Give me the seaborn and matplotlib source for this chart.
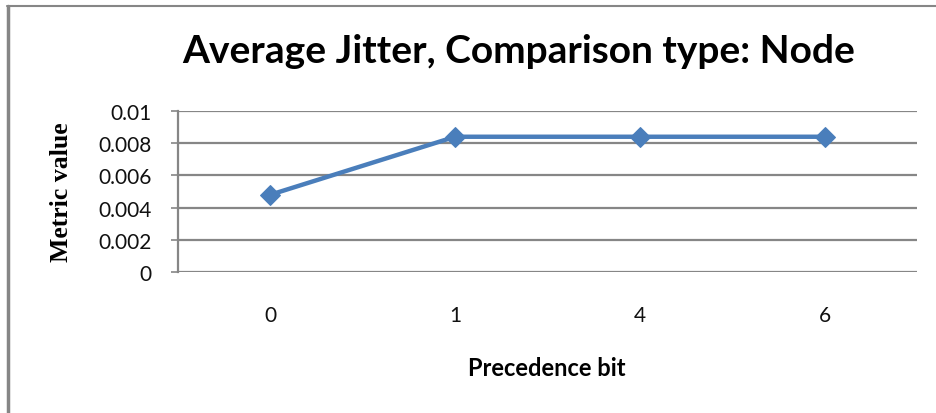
import matplotlib
matplotlib.use("Agg")
import matplotlib.pyplot as plt
import seaborn as sns
from matplotlib.lines import Line2D

# data
precedence_bits = ["0", "1", "4", "6"]
avg_jitter = [0.0048, 0.0084, 0.0084, 0.0084]
y_ticks = [0, 0.002, 0.004, 0.006, 0.008, 0.01]
y_tick_labels = ["0", "0.002", "0.004", "0.006", "0.008", "0.01"]

sns.set_style("white")
plt.rcParams["font.family"] = ["Lato", "DejaVu Sans"]

fig = plt.figure(figsize=(9.37, 4.14), dpi=100)
ax = fig.add_axes([0.190, 0.3406, 0.7887, 0.3889])

line_color = "#4a7ebb"
grid_color = "#868686"

sns.lineplot(x=precedence_bits, y=avg_jitter, ax=ax, color=line_color,
             linewidth=3.2, marker="D", markersize=10,
             markeredgecolor=line_color, sort=False)

ax.set_xlim(-0.5, 3.5)
ax.set_ylim(0, 0.01)
ax.set_yticks(y_ticks)
ax.set_yticklabels(y_tick_labels, fontsize=15, color="#111111")
ax.tick_params(axis="y", length=5, width=1.2, color=grid_color, pad=14, direction="out", left=True)
ax.tick_params(axis="x", length=0, pad=24, labelsize=15, labelcolor="#111111")

ax.grid(axis="y", color=grid_color, linewidth=1.6)
ax.set_axisbelow(True)
for side in ["top", "right", "bottom"]:
    ax.spines[side].set_visible(False)
ax.spines["left"].set_color(grid_color)
ax.spines["left"].set_linewidth(1.6)

ax.set_xlabel("")
ax.set_ylabel("")

fig.text(0.553, 0.876, "Average Jitter, Comparison type: Node",
         ha="center", va="center", fontsize=28, fontweight="bold", color="black")
fig.text(0.583, 0.111, "Precedence bit", ha="center", va="center",
         fontsize=17, fontweight="bold", color="black")
fig.text(0.066, 0.536, "Metric value", ha="center", va="center",
         rotation=90, fontsize=18.5, fontweight="bold", color="black",
         family=["Liberation Serif", "DejaVu Serif"])

# outer frame (top and left edges visible)
fig.add_artist(Line2D([7.5 / 937, 1.0], [1 - 7 / 414, 1 - 7 / 414],
                      transform=fig.transFigure, color=grid_color, linewidth=1.5))
fig.add_artist(Line2D([8 / 937, 8 / 937], [0, 1 - 7 / 414],
                      transform=fig.transFigure, color=grid_color, linewidth=2.5))

fig.savefig("out.png", dpi=100)
